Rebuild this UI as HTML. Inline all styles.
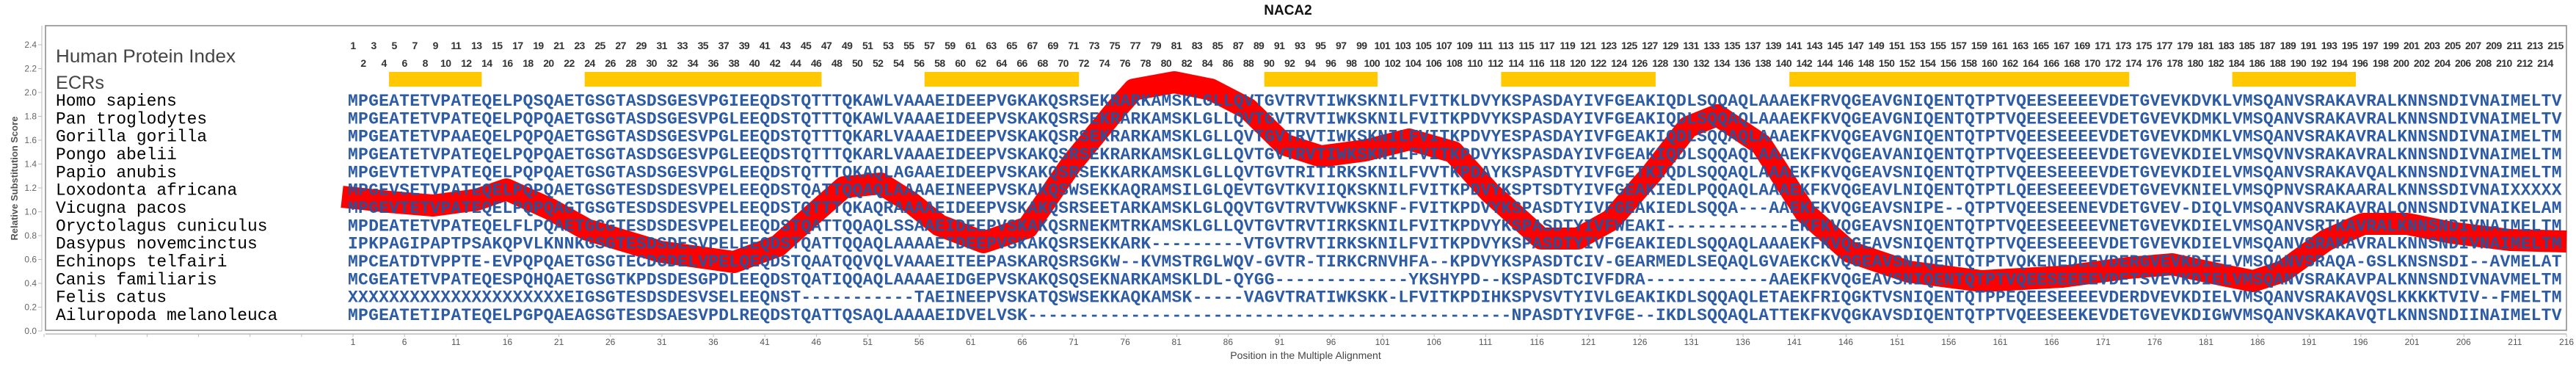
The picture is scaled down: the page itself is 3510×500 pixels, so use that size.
<!DOCTYPE html>
<html><head><meta charset="utf-8"><style>
html,body{margin:0;padding:0;background:#fff;}
#c{position:relative;width:3510px;height:500px;overflow:hidden;background:#fff;font-family:"Liberation Sans",sans-serif;}
.row{position:absolute;display:flex;white-space:nowrap;}
.row span{display:block;text-align:center;flex:none;}
.odd{top:53px;left:466.97px;height:18px;line-height:18px;font-weight:bold;font-size:14px;color:#333;letter-spacing:-0.6px;}
.odd span,.even span{width:28.06px;}
.even{top:77px;left:481px;height:18px;line-height:18px;font-weight:bold;font-size:14px;color:#333;letter-spacing:-0.6px;}
.xl{top:459px;left:445.9px;height:14px;line-height:14px;font-size:12px;color:#555;}
.xl span{width:70.15px;}
</style></head><body><div id="c">
<svg width="3510" height="500" style="position:absolute;left:0;top:0">
<rect x="62" y="35" width="3435" height="415" fill="none" stroke="#888" stroke-width="1.5"/>
<line x1="57" y1="35" x2="57" y2="451" stroke="#bbb" stroke-width="1"/>
<line x1="62" y1="455" x2="3497" y2="455" stroke="#bbb" stroke-width="1.5"/>
<g stroke="#bbb" stroke-width="1">
<line x1="52" y1="61" x2="57" y2="61"/><line x1="52" y1="93.5" x2="57" y2="93.5"/><line x1="52" y1="126" x2="57" y2="126"/><line x1="52" y1="158.5" x2="57" y2="158.5"/><line x1="52" y1="191" x2="57" y2="191"/><line x1="52" y1="223.5" x2="57" y2="223.5"/><line x1="52" y1="256" x2="57" y2="256"/><line x1="52" y1="288.5" x2="57" y2="288.5"/><line x1="52" y1="321" x2="57" y2="321"/><line x1="52" y1="353.5" x2="57" y2="353.5"/><line x1="52" y1="386" x2="57" y2="386"/><line x1="52" y1="418.5" x2="57" y2="418.5"/><line x1="52" y1="451" x2="57" y2="451"/>
</g>
<g font-size="12" fill="#666" text-anchor="end" font-family="Liberation Sans,sans-serif">
<text x="50" y="65">2.4</text><text x="50" y="97.5">2.2</text><text x="50" y="130">2.0</text><text x="50" y="162.5">1.8</text><text x="50" y="195">1.6</text><text x="50" y="227.5">1.4</text><text x="50" y="260">1.2</text><text x="50" y="292.5">1.0</text><text x="50" y="325">0.8</text><text x="50" y="357.5">0.6</text><text x="50" y="390">0.4</text><text x="50" y="422.5">0.2</text><text x="50" y="455">0.0</text>
</g>
<text transform="translate(24,243) rotate(-90)" text-anchor="middle" font-size="13" font-weight="bold" fill="#555" font-family="Liberation Sans,sans-serif">Relative Substitution Score</text>
<text x="1755" y="20" text-anchor="middle" font-size="19" font-weight="bold" fill="#111" font-family="Liberation Sans,sans-serif">NACA2</text>
<text x="1779" y="489" text-anchor="middle" font-size="14" fill="#444" font-family="Liberation Sans,sans-serif">Position in the Multiple Alignment</text>
<text x="76" y="85" font-size="25" fill="#444" textLength="245" lengthAdjust="spacingAndGlyphs" font-family="Liberation Sans,sans-serif">Human Protein Index</text>
<text x="76" y="121" font-size="25" fill="#444" textLength="66" lengthAdjust="spacingAndGlyphs" font-family="Liberation Sans,sans-serif">ECRs</text>
<g stroke="#bbb" stroke-width="1">
<line x1="60" y1="455" x2="60" y2="459"/><line x1="130.3" y1="455" x2="130.3" y2="459"/><line x1="200.4" y1="455" x2="200.4" y2="459"/><line x1="270.6" y1="455" x2="270.6" y2="459"/><line x1="340.7" y1="455" x2="340.7" y2="459"/><line x1="410.9" y1="455" x2="410.9" y2="459"/>
</g>
<g fill="#FFC800">
<rect x="530.1" y="98" width="126.3" height="20"/>
<rect x="796.7" y="98" width="322.7" height="20"/>
<rect x="1259.7" y="98" width="210.5" height="20"/>
<rect x="1722.7" y="98" width="154.3" height="20"/>
<rect x="2045.4" y="98" width="210.5" height="20"/>
<rect x="2438.2" y="98" width="463" height="20"/>
<rect x="3041.6" y="98" width="168.4" height="20"/>
</g>
<polyline fill="none" stroke="#ff0000" stroke-width="30" stroke-linejoin="round" points="466,268 530,275 590,280 650,272 690,258 750,285 800,313 900,343 1000,357 1060,335 1110,290 1150,255 1200,250 1240,275 1280,307 1340,330 1400,310 1460,223 1520,150 1545,122 1600,112 1650,122 1700,148 1750,197 1800,213 1860,205 1920,190 1980,207 2030,262 2100,325 2150,325 2195,300 2250,237 2300,173 2340,157 2400,197 2460,290 2520,343 2600,370 2700,383 2810,377 2900,365 2960,360 3020,373 3070,383 3110,370 3170,327 3220,305 3280,305 3340,317 3420,327 3497,329"/>
<g font-family="Liberation Mono,DejaVu Sans Mono,monospace" font-size="22.9" fill="#000">
<text x="76" y="144">Homo sapiens</text>
<text x="76" y="168.3">Pan troglodytes</text>
<text x="76" y="192.7">Gorilla gorilla</text>
<text x="76" y="217">Pongo abelii</text>
<text x="76" y="241.3">Papio anubis</text>
<text x="76" y="265.7">Loxodonta africana</text>
<text x="76" y="290">Vicugna pacos</text>
<text x="76" y="314.3">Oryctolagus cuniculus</text>
<text x="76" y="338.7">Dasypus novemcinctus</text>
<text x="76" y="363">Echinops telfairi</text>
<text x="76" y="387.3">Canis familiaris</text>
<text x="76" y="411.7">Felis catus</text>
<text x="76" y="436">Ailuropoda melanoleuca</text>
</g>
<g font-family="Liberation Mono,DejaVu Sans Mono,monospace" font-size="23" font-weight="bold" fill="#2253a0" fill-opacity="0.95">
<text x="474" y="144" textLength="3016.5" lengthAdjust="spacing">MPGEATETVPATEQELPQSQAETGSGTASDSGESVPGIEEQDSTQTTTQKAWLVAAAEIDEEPVGKAKQSRSEKRARKAMSKLGLLQVTGVTRVTIWKSKNILFVITKLDVYKSPASDAYIVFGEAKIQDLSQQAQLAAAEKFRVQGEAVGNIQENTQTPTVQEESEEEEVDETGVEVKDVKLVMSQANVSRAKAVRALKNNSNDIVNAIMELTV</text>
<text x="474" y="168.3" textLength="3016.5" lengthAdjust="spacing">MPGEATETVPATEQELPQPQAETGSGTASDSGESVPGLEEQDSTQTTTQKAWLVAAAEIDEEPVSKAKQSRSEKRARKAMSKLGLLQVTGVTRVTIWKSKNILFVITKPDVYKSPASDAYIVFGEAKIQDLSQQAQLAAAEKFKVQGEAVGNIQENTQTPTVQEESEEEEVDETGVEVKDMKLVMSQANVSRAKAVRALKNNSNDIVNAIMELTV</text>
<text x="474" y="192.7" textLength="3016.5" lengthAdjust="spacing">MPGEATETVPAAEQELPQPQAETGSGTASDSGESVPGLEEQDSTQTTTQKARLVAAAEIDEEPVSKAKQSRSEKRARKAMSKLGLLQVTGVTRVTIWKSKNILFVITKPDVYESPASDAYIVFGEAKIQDLSQQAQLAAAEKFKVQGEAVGNIQENTQTPTVQEESEEEEVDETGVEVKDMKLVMSQANVSRAKAVRALKNNSNDIVNAIMELTM</text>
<text x="474" y="217" textLength="3016.5" lengthAdjust="spacing">MPGEATETVPATEQELPQPQAETGSGTASDSGESVPGLEEQDSTQTTTQKARLVAAAEIDEEPVSKAKQSRSEKRARKAMSKLGLLQVTGVTRVTIWKSKNILFVITKPDVYKSPASDAYIVFGEAKIQDLSQQAQLAAAEKFKVQGEAVANIQENTQTPTVQEESEEEEVDETGVEVKDIELVMSQVNVSRAKAVRALKNNSNDIVNAIMELTM</text>
<text x="474" y="241.3" textLength="3016.5" lengthAdjust="spacing">MPGEVTETVPATEQELPQPQAETGSGTASDSGESVPGLEEQDSTQTTTQKAQLAGAAEIDEEPVSKAKQSRSEKKARKAMSKLGLLQVTGVTRITIRKSKNILFVVTKPDAYKSPASDTYIVFGETKIQDLSQQAQLAAAEKFKVQGEAVSNIQENTQTPTVQEESEEEEVDETGVEVKDIELVMSQANVSRAKAVQALKNNSNDIVNAIMELTM</text>
<text x="474" y="265.7" textLength="3016.5" lengthAdjust="spacing">MPGEVSETVPATEQELPQPQAETGSGTESDSDESVPELEEQDSTQATTQQAQLAAAAEINEEPVSKAKQSWSEKKAQRAMSILGLQEVTGVTKVIIQKSKNILFVITKPDVYKSPTSDTYIVFGEAKIEDLPQQAQLAAAEKFKVQGEAVLNIQENTQTPTLQEESEEEEVDETGVEVKNIELVMSQPNVSRAKAARALKNNSSDIVNAIXXXXX</text>
<text x="474" y="290" textLength="3016.5" lengthAdjust="spacing">MPGEVTETVPATEQELPQPQAGTGSGTESDSDESVPELEEQDSTQTTTQKAQRAAAAEIDEEPVSKAKQSRSEETARKAMSKLGLQQVTGVTRVTVWKSKNF-FVITKPDVYKSPASDTYIVFGEAKIEDLSQQA---AAEKFKVQGEAVSNIPE--QTPTVQEESEENEVDETGVEV-DIQLVMSQANVSRAKAVRALQNNSNDIVNAIKELAM</text>
<text x="474" y="314.3" textLength="3016.5" lengthAdjust="spacing">MPDEATETVPATEQELFLPQAETGCGTESDSDESVPELEEQDSTQATTQQAQLSSAAEIDEEPVSKAKQSRNEKMTRKAMSKLGLLQVTGVTRVTIRKSKNILFVITKPDVYKSPASDTYIVFWEAKI------------EKFKVQGEAVSNIQENTQTPTVQEESEEEEVNETGVEVKDIELVMSQANVSRTKAVRALKNNSNDIVNAIMELTM</text>
<text x="474" y="338.7" textLength="3016.5" lengthAdjust="spacing">IPKPAGIPAPTPSAKQPVLKNNKGSGTESDSDESVPELEEQDSTQATTQQAQLAAAAEIDEEPVSKAKQSRSEKKARK---------VTGVTRVTIRKSKNILFVITKPDVYKSPASDTYIVFGEAKIEDLSQQAQLAAAEKFKVQGEAVSNIQENTQTPTVQEESEEEEVDETGVEVKDIELVMSQANVSRAKAVRALKNNSNDIVNAIMELTM</text>
<text x="474" y="363" textLength="3016.5" lengthAdjust="spacing">MPCEATDTVPPTE-EVPQPQAETGSGTECDGDELVPELQEQDSTQAATQQVQLVAAAEITEEPASKARQSRSGKW--KVMSTRGLWQV-GVTR-TIRKCRNVHFA--KPDVYKSPASDTCIV-GEARMEDLSEQAQLGVAEKCKVQGEAVSNIQENTQTPTVQKENEDEEVDERGVEVKDIELVMSQANVSRAQA-GSLKNSNSDI--AVMELAT</text>
<text x="474" y="387.3" textLength="3016.5" lengthAdjust="spacing">MCGEATETVPATEQESPQHQAETGSGTKPDSDESGPDLEEQDSTQATIQQAQLAAAAEIDGEPVSKAKQSQSEKNARKAMSKLDL-QYGG-------------YKSHYPD--KSPASDTCIVFDRA------------AAEKFKVQGEAVSNIQENTQTPTVQEESEEEEVDETSVEVKDIELVMSQANVSRAKAVPALKNNSNDIVNAVMELTM</text>
<text x="474" y="411.7" textLength="3016.5" lengthAdjust="spacing">XXXXXXXXXXXXXXXXXXXXXEIGSGTESDSDESVSELEEQNST-----------TAEINEEPVSKATQSWSEKKAQKAMSK-----VAGVTRATIWKSKK-LFVITKPDIHKSPVSVTYIVLGEAKIKDLSQQAQLETAEKFRIQGKTVSNIQENTQTPPEQEESEEEEVDERDVEVKDIELVMSQANVSRAKAVQSLKKKKTVIV--FMELTM</text>
<text x="474" y="436" textLength="3016.5" lengthAdjust="spacing">MPGEATETIPATEQELPGPQAEAGSGTESDSAESVPDLREQDSTQATTQSAQLAAAAEIDVELVSK-----------------------------------------------NPASDTYIVFGE--IKDLSQQAQLATTEKFKVQGKAVSDIQENTQTPTVQEESEEKEVDETGVEVKDIGWVMSQANVSKAKAVQTLKNNSNDIINAIMELTV</text>
</g>
</svg>
<div class="row odd"><span>1</span><span>3</span><span>5</span><span>7</span><span>9</span><span>11</span><span>13</span><span>15</span><span>17</span><span>19</span><span>21</span><span>23</span><span>25</span><span>27</span><span>29</span><span>31</span><span>33</span><span>35</span><span>37</span><span>39</span><span>41</span><span>43</span><span>45</span><span>47</span><span>49</span><span>51</span><span>53</span><span>55</span><span>57</span><span>59</span><span>61</span><span>63</span><span>65</span><span>67</span><span>69</span><span>71</span><span>73</span><span>75</span><span>77</span><span>79</span><span>81</span><span>83</span><span>85</span><span>87</span><span>89</span><span>91</span><span>93</span><span>95</span><span>97</span><span>99</span><span>101</span><span>103</span><span>105</span><span>107</span><span>109</span><span>111</span><span>113</span><span>115</span><span>117</span><span>119</span><span>121</span><span>123</span><span>125</span><span>127</span><span>129</span><span>131</span><span>133</span><span>135</span><span>137</span><span>139</span><span>141</span><span>143</span><span>145</span><span>147</span><span>149</span><span>151</span><span>153</span><span>155</span><span>157</span><span>159</span><span>161</span><span>163</span><span>165</span><span>167</span><span>169</span><span>171</span><span>173</span><span>175</span><span>177</span><span>179</span><span>181</span><span>183</span><span>185</span><span>187</span><span>189</span><span>191</span><span>193</span><span>195</span><span>197</span><span>199</span><span>201</span><span>203</span><span>205</span><span>207</span><span>209</span><span>211</span><span>213</span><span>215</span></div>
<div class="row even"><span>2</span><span>4</span><span>6</span><span>8</span><span>10</span><span>12</span><span>14</span><span>16</span><span>18</span><span>20</span><span>22</span><span>24</span><span>26</span><span>28</span><span>30</span><span>32</span><span>34</span><span>36</span><span>38</span><span>40</span><span>42</span><span>44</span><span>46</span><span>48</span><span>50</span><span>52</span><span>54</span><span>56</span><span>58</span><span>60</span><span>62</span><span>64</span><span>66</span><span>68</span><span>70</span><span>72</span><span>74</span><span>76</span><span>78</span><span>80</span><span>82</span><span>84</span><span>86</span><span>88</span><span>90</span><span>92</span><span>94</span><span>96</span><span>98</span><span>100</span><span>102</span><span>104</span><span>106</span><span>108</span><span>110</span><span>112</span><span>114</span><span>116</span><span>118</span><span>120</span><span>122</span><span>124</span><span>126</span><span>128</span><span>130</span><span>132</span><span>134</span><span>136</span><span>138</span><span>140</span><span>142</span><span>144</span><span>146</span><span>148</span><span>150</span><span>152</span><span>154</span><span>156</span><span>158</span><span>160</span><span>162</span><span>164</span><span>166</span><span>168</span><span>170</span><span>172</span><span>174</span><span>176</span><span>178</span><span>180</span><span>182</span><span>184</span><span>186</span><span>188</span><span>190</span><span>192</span><span>194</span><span>196</span><span>198</span><span>200</span><span>202</span><span>204</span><span>206</span><span>208</span><span>210</span><span>212</span><span>214</span></div>
<div class="row xl"><span>1</span><span>6</span><span>11</span><span>16</span><span>21</span><span>26</span><span>31</span><span>36</span><span>41</span><span>46</span><span>51</span><span>56</span><span>61</span><span>66</span><span>71</span><span>76</span><span>81</span><span>86</span><span>91</span><span>96</span><span>101</span><span>106</span><span>111</span><span>116</span><span>121</span><span>126</span><span>131</span><span>136</span><span>141</span><span>146</span><span>151</span><span>156</span><span>161</span><span>166</span><span>171</span><span>176</span><span>181</span><span>186</span><span>191</span><span>196</span><span>201</span><span>206</span><span>211</span><span>216</span></div>
<svg width="3510" height="500" style="position:absolute;left:0;top:0;pointer-events:none">
<g stroke="#bbb" stroke-width="1">
<line x1="481" y1="455" x2="481" y2="459"/><line x1="551.2" y1="455" x2="551.2" y2="459"/><line x1="621.3" y1="455" x2="621.3" y2="459"/><line x1="691.5" y1="455" x2="691.5" y2="459"/><line x1="761.6" y1="455" x2="761.6" y2="459"/><line x1="831.8" y1="455" x2="831.8" y2="459"/><line x1="901.9" y1="455" x2="901.9" y2="459"/><line x1="972.1" y1="455" x2="972.1" y2="459"/><line x1="1042.2" y1="455" x2="1042.2" y2="459"/><line x1="1112.4" y1="455" x2="1112.4" y2="459"/><line x1="1182.5" y1="455" x2="1182.5" y2="459"/><line x1="1252.7" y1="455" x2="1252.7" y2="459"/><line x1="1322.8" y1="455" x2="1322.8" y2="459"/><line x1="1393" y1="455" x2="1393" y2="459"/><line x1="1463.1" y1="455" x2="1463.1" y2="459"/><line x1="1533.3" y1="455" x2="1533.3" y2="459"/><line x1="1603.4" y1="455" x2="1603.4" y2="459"/><line x1="1673.6" y1="455" x2="1673.6" y2="459"/><line x1="1743.7" y1="455" x2="1743.7" y2="459"/><line x1="1813.9" y1="455" x2="1813.9" y2="459"/><line x1="1884" y1="455" x2="1884" y2="459"/><line x1="1954.2" y1="455" x2="1954.2" y2="459"/><line x1="2024.3" y1="455" x2="2024.3" y2="459"/><line x1="2094.5" y1="455" x2="2094.5" y2="459"/><line x1="2164.6" y1="455" x2="2164.6" y2="459"/><line x1="2234.8" y1="455" x2="2234.8" y2="459"/><line x1="2304.9" y1="455" x2="2304.9" y2="459"/><line x1="2375.1" y1="455" x2="2375.1" y2="459"/><line x1="2445.2" y1="455" x2="2445.2" y2="459"/><line x1="2515.4" y1="455" x2="2515.4" y2="459"/><line x1="2585.5" y1="455" x2="2585.5" y2="459"/><line x1="2655.7" y1="455" x2="2655.7" y2="459"/><line x1="2725.8" y1="455" x2="2725.8" y2="459"/><line x1="2796" y1="455" x2="2796" y2="459"/><line x1="2866.1" y1="455" x2="2866.1" y2="459"/><line x1="2936.3" y1="455" x2="2936.3" y2="459"/><line x1="3006.4" y1="455" x2="3006.4" y2="459"/><line x1="3076.6" y1="455" x2="3076.6" y2="459"/><line x1="3146.7" y1="455" x2="3146.7" y2="459"/><line x1="3216.9" y1="455" x2="3216.9" y2="459"/><line x1="3287" y1="455" x2="3287" y2="459"/><line x1="3357.2" y1="455" x2="3357.2" y2="459"/><line x1="3427.3" y1="455" x2="3427.3" y2="459"/><line x1="3497" y1="455" x2="3497" y2="459"/>
</g>
</svg>
</div></body></html>
